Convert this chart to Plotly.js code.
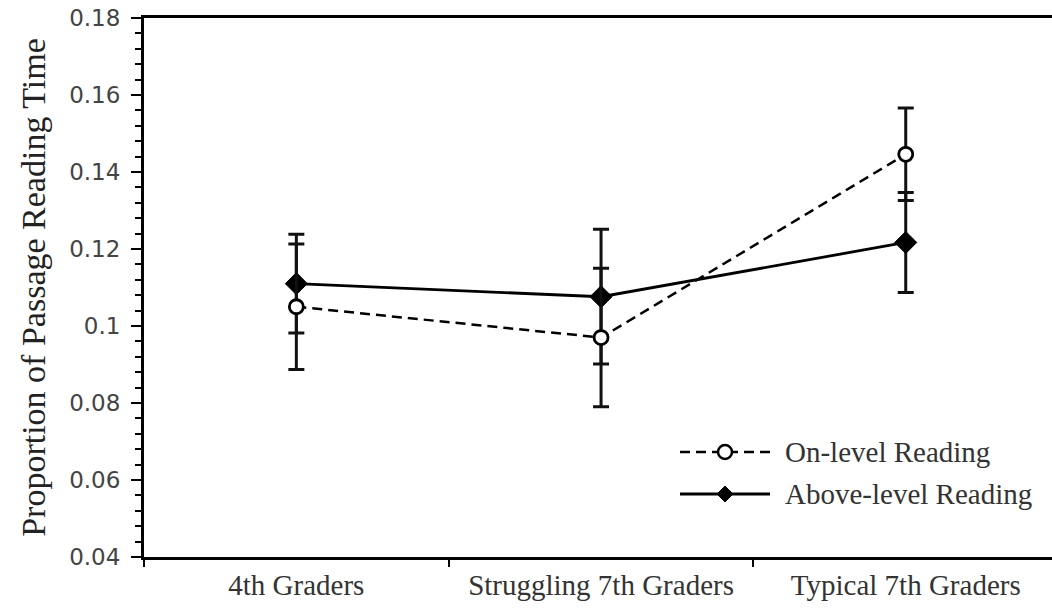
<!DOCTYPE html>
<html>
<head>
<meta charset="utf-8">
<script src="https://cdn.plot.ly/plotly-3.0.1.min.js"></script>
<style>html,body{margin:0;padding:0;background:#fff;}#chart{width:1052px;height:608px;}</style>
</head>
<body>
<div id="chart"></div>
<script>
var categories = ['4th Graders', 'Struggling 7th Graders', 'Typical 7th Graders'];
var seriesNames = ['On-level Reading', 'Above-level Reading'];
var onLevel = [0.105, 0.097, 0.1446];
var onLevelErr = [0.0163, 0.018, 0.012];
var aboveLevel = [0.111, 0.1076, 0.1217];
var aboveLevelErr = [0.0128, 0.0175, 0.013];
var yTickVals = [0.04, 0.06, 0.08, 0.1, 0.12, 0.14, 0.16, 0.18];
var yTickLabels = ['0.04', '0.06', '0.08', '0.1', '0.12', '0.14', '0.16', '0.18'];

var serif = 'Liberation Serif, Times New Roman, serif';

var traceAbove = {
  x: categories, y: aboveLevel, name: seriesNames[1], type: 'scatter', mode: 'lines+markers',
  line: {color: '#000', width: 2.8},
  marker: {symbol: 'diamond', size: 17, color: '#000', line: {color: '#000', width: 1}},
  error_y: {type: 'data', array: aboveLevelErr, visible: true, color: '#111', thickness: 3, width: 8},
  showlegend: false, cliponaxis: false
};
var traceOn = {
  x: categories, y: onLevel, name: seriesNames[0], type: 'scatter', mode: 'lines+markers',
  line: {color: '#000', width: 2.5, dash: '10px,6px'},
  marker: {symbol: 'circle', size: 14, color: '#fff', line: {color: '#000', width: 2.8}},
  error_y: {type: 'data', array: onLevelErr, visible: true, color: '#111', thickness: 3, width: 8},
  showlegend: false, cliponaxis: false
};

var L = 144, T = 18, W = 1052, H = 608, B = 51;
var pw = W - L, ph = H - T - B;
function px(x) { return (x - L) / pw; }
function py(y) { return (H - B - y) / ph; }

var row1 = py(452), row2 = py(494);
var lx0 = px(680), lx1 = px(770), lm = px(725), tx = px(783);

var layout = {
  width: 1052, height: 608,
  margin: {l: L, r: 0, t: T, b: B},
  paper_bgcolor: '#fff', plot_bgcolor: '#fff',
  showlegend: false,
  xaxis: {
    type: 'category', range: [-0.5, 2.48],
    showline: true, linecolor: '#000', linewidth: 3, mirror: true,
    ticks: 'outside', tickson: 'boundaries', ticklen: 7, tickwidth: 2, tickcolor: '#000',
    showgrid: false, zeroline: false,
    tickfont: {family: serif, size: 29, color: '#333'}
  },
  yaxis: {
    range: [0.04, 0.18], tickmode: 'array', tickvals: yTickVals, ticktext: yTickLabels,
    showline: true, linecolor: '#000', linewidth: 3,
    ticks: 'outside', ticklen: 10, tickwidth: 2, tickcolor: '#000',
    minor: {dtick: 0.004, ticks: 'outside', ticklen: 6, tickwidth: 2, tickcolor: '#000', showgrid: false},
    showgrid: false, zeroline: false, ticklabelstandoff: 6,
    tickfont: {family: 'DejaVu Sans, Verdana, sans-serif', size: 23, color: '#444'},
    title: {text: 'Proportion of Passage Reading Time', font: {family: serif, size: 34, color: '#222'}, standoff: 14}
  },
  shapes: [
    {type: 'line', xref: 'paper', yref: 'paper', x0: lx0, x1: lx1, y0: row1, y1: row1, line: {color: '#000', width: 2.5, dash: '10px,6px'}},
    {type: 'circle', xref: 'paper', yref: 'paper', xsizemode: 'pixel', ysizemode: 'pixel', xanchor: lm, yanchor: row1, x0: -7, x1: 7, y0: -7, y1: 7, fillcolor: '#fff', line: {color: '#000', width: 2.5}},
    {type: 'line', xref: 'paper', yref: 'paper', x0: lx0, x1: lx1, y0: row2, y1: row2, line: {color: '#000', width: 2.8}},
    {type: 'path', xref: 'paper', yref: 'paper', xsizemode: 'pixel', ysizemode: 'pixel', xanchor: lm, yanchor: row2, path: 'M-8,0 L0,8 L8,0 L0,-8 Z', fillcolor: '#000', line: {color: '#000', width: 1}}
  ],
  annotations: [
    {xref: 'paper', yref: 'paper', x: tx, y: row1, xanchor: 'left', yanchor: 'middle', showarrow: false, text: seriesNames[0], font: {family: serif, size: 29, color: '#333'}},
    {xref: 'paper', yref: 'paper', x: tx, y: row2, xanchor: 'left', yanchor: 'middle', showarrow: false, text: seriesNames[1], font: {family: serif, size: 29, color: '#333'}}
  ]
};

Plotly.newPlot('chart', [traceAbove, traceOn], layout, {displayModeBar: false, staticPlot: true});
</script>
</body>
</html>
